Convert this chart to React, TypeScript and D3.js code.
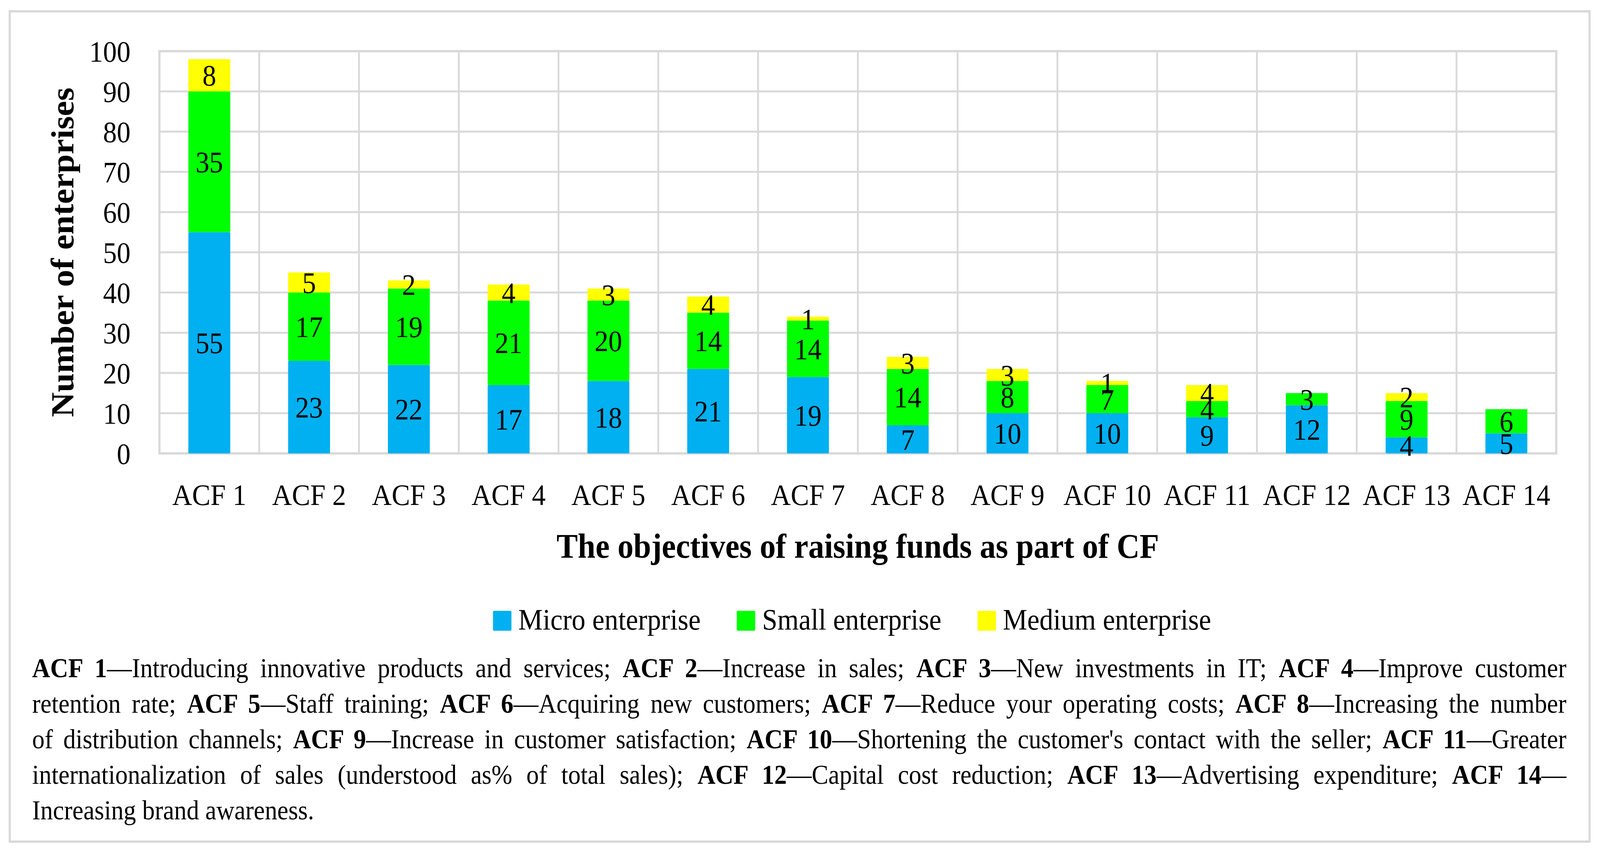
import React, { useEffect, useRef } from "react";
import * as d3 from "d3";

const W = 4426;
const H = 2179;

const categories = ["ACF 1", "ACF 2", "ACF 3", "ACF 4", "ACF 5", "ACF 6", "ACF 7", "ACF 8", "ACF 9", "ACF 10", "ACF 11", "ACF 12", "ACF 13", "ACF 14"];
const microValues = [55, 23, 22, 17, 18, 21, 19, 7, 10, 10, 9, 12, 4, 5];
const smallValues = [35, 17, 19, 21, 20, 14, 14, 14, 8, 7, 4, 3, 9, 6];
const mediumValues = [8, 5, 2, 4, 3, 4, 1, 3, 3, 1, 4, 0, 2, 0];

const seriesKeys = ["micro", "small", "medium"];
const seriesLabels = ["Micro enterprise", "Small enterprise", "Medium enterprise"];
const seriesColors = ["#00B0F0", "#00FF00", "#FFFF00"];

const yTickValues = [0, 10, 20, 30, 40, 50, 60, 70, 80, 90, 100];
const yAxisTitle = "Number of enterprises";
const xAxisTitle = "The objectives of raising funds as part of CF";

const noteLines: [string, boolean][][] = [
  [["ACF 1", true], ["\u2014Introducing innovative products and services; ", false], ["ACF 2", true], ["\u2014Increase in sales; ", false], ["ACF 3", true], ["\u2014New investments in IT; ", false], ["ACF 4", true], ["\u2014Improve customer", false]],
  [["retention rate; ", false], ["ACF 5", true], ["\u2014Staff training; ", false], ["ACF 6", true], ["\u2014Acquiring new customers; ", false], ["ACF 7", true], ["\u2014Reduce your operating costs; ", false], ["ACF 8", true], ["\u2014Increasing the number", false]],
  [["of distribution channels; ", false], ["ACF 9", true], ["\u2014Increase in customer satisfaction; ", false], ["ACF 10", true], ["\u2014Shortening the customer's contact with the seller; ", false], ["ACF 11", true], ["\u2014Greater", false]],
  [["internationalization of sales (understood as% of total sales); ", false], ["ACF 12", true], ["\u2014Capital cost reduction; ", false], ["ACF 13", true], ["\u2014Advertising expenditure; ", false], ["ACF 14", true], ["\u2014", false]],
  [["Increasing brand awareness.", false]],
];

const FONT = "'Liberation Serif', 'Times New Roman', serif";

export default function App() {
  const ref = useRef<SVGSVGElement>(null);

  useEffect(() => {
    const svg = d3.select(ref.current!);
    svg.selectAll("*").remove();

    svg.append("rect").attr("width", W).attr("height", H).attr("fill", "#ffffff");

    // outer frame
    svg.append("rect")
      .attr("x", 27).attr("y", 29).attr("width", 4370).attr("height", 2126)
      .attr("fill", "none").attr("stroke", "#D9D9D9").attr("stroke-width", 6);

    const left = 441, right = 4305, top = 131, bottom = 1161;
    const x = d3.scaleBand<string>().domain(categories).range([left, right]).paddingInner(0.58).paddingOuter(0.29);
    const y = d3.scaleLinear().domain([0, 100]).range([bottom, top]);
    const step = x.step();

    const grid = svg.append("g").attr("stroke", "#D9D9D9").attr("stroke-width", 5);
    yTickValues.forEach((v) => {
      grid.append("line").attr("x1", left).attr("x2", right).attr("y1", y(v)).attr("y2", y(v));
    });
    d3.range(categories.length + 1).forEach((i) => {
      const xx = left + i * step;
      grid.append("line").attr("x1", xx).attr("x2", xx).attr("y1", top).attr("y2", bottom);
    });
    svg.append("rect")
      .attr("x", left).attr("y", top).attr("width", right - left).attr("height", bottom - top)
      .attr("fill", "none").attr("stroke", "#D9D9D9").attr("stroke-width", 6);

    const rows = categories.map((c, i) => ({ cat: c, micro: microValues[i], small: smallValues[i], medium: mediumValues[i] }));
    const stacked = d3.stack<any>().keys(seriesKeys)(rows);

    const barsG = svg.append("g");
    const labelsG = svg.append("g")
      .attr("font-family", FONT).attr("font-size", 76).attr("fill", "#000").attr("text-anchor", "middle");
    stacked.forEach((s, si) => {
      s.forEach((d) => {
        const v = d[1] - d[0];
        if (v <= 0) return;
        const cat = (d.data as any).cat;
        barsG.append("rect")
          .attr("x", x(cat)!).attr("y", y(d[1]))
          .attr("width", x.bandwidth()).attr("height", y(d[0]) - y(d[1]))
          .attr("rx", 2)
          .attr("fill", seriesColors[si]);
      });
    });
    stacked.forEach((s) => {
      s.forEach((d) => {
        const v = d[1] - d[0];
        if (v <= 0) return;
        const cat = (d.data as any).cat;
        labelsG.append("text")
          .attr("x", x(cat)! + x.bandwidth() / 2)
          .attr("y", y((d[0] + d[1]) / 2))
          .attr("dy", "0.35em")
          .text(String(v));
      });
    });

    // y tick labels
    const yl = svg.append("g").attr("font-family", FONT).attr("font-size", 76).attr("text-anchor", "end");
    yTickValues.forEach((v) => {
      yl.append("text").attr("x", 361).attr("y", y(v)).attr("dy", "0.35em").text(String(v));
    });

    // x tick labels
    const xl = svg.append("g").attr("font-family", FONT).attr("font-size", 76).attr("text-anchor", "middle");
    categories.forEach((c) => {
      xl.append("text").attr("x", x(c)! + x.bandwidth() / 2).attr("y", 1293).text(c);
    });

    // axis titles
    svg.append("text")
      .attr("transform", `translate(203, ${(top + bottom) / 2}) rotate(-90)`)
      .attr("text-anchor", "middle").attr("font-family", FONT).attr("font-weight", "bold").attr("font-size", 88)
      .text(yAxisTitle);
    svg.append("text")
      .attr("x", (left + right) / 2).attr("y", 1428)
      .attr("text-anchor", "middle").attr("font-family", FONT).attr("font-weight", "bold").attr("font-size", 88)
      .text(xAxisTitle);

    // legend
    const legendG = svg.append("g").attr("font-family", FONT).attr("font-size", 76);
    const sq = 51, gapText = 19, gapItem = 100;
    const items = seriesLabels.map((lab, i) => {
      const g = legendG.append("g");
      g.append("rect").attr("x", 0).attr("y", 1564).attr("width", sq).attr("height", sq).attr("rx", 3).attr("fill", seriesColors[i]);
      const t = g.append("text").attr("x", sq + gapText).attr("y", 1612).text(lab);
      const w = (t.node() as SVGTextElement).getComputedTextLength();
      return { g, width: sq + gapText + w };
    });
    const totalW = d3.sum(items, (d) => d.width) + gapItem * (items.length - 1);
    let lx = 2357 - totalW / 2;
    items.forEach((it) => {
      it.g.attr("transform", `translate(${lx},0)`);
      lx += it.width + gapItem;
    });

    // note paragraph (justified)
    const noteX = 89, noteRight = 4333, noteY0 = 1734, lineH = 91;
    const noteG = svg.append("g").attr("font-family", FONT).attr("font-size", 69).attr("fill", "#000");
    noteLines.forEach((line, li) => {
      const t = noteG.append("text").attr("x", noteX).attr("y", noteY0 + li * lineH).style("white-space", "pre");
      line.forEach(([txt, b]) => {
        t.append("tspan").attr("font-weight", b ? "bold" : "normal").text(txt);
      });
      if (li < noteLines.length - 1) {
        const w = (t.node() as SVGTextElement).getComputedTextLength();
        const full = line.map((s) => s[0]).join("");
        const nSpaces = (full.match(/ /g) || []).length;
        if (nSpaces > 0) t.attr("word-spacing", (noteRight - noteX - w) / nSpaces);
      }
    });
  }, []);

  return (
    <svg
      ref={ref}
      viewBox={`0 0 ${W} ${H}`}
      preserveAspectRatio="none"
      style={{ position: "fixed", left: 0, top: 0, width: "100vw", height: "100vh", display: "block" }}
    />
  );
}
